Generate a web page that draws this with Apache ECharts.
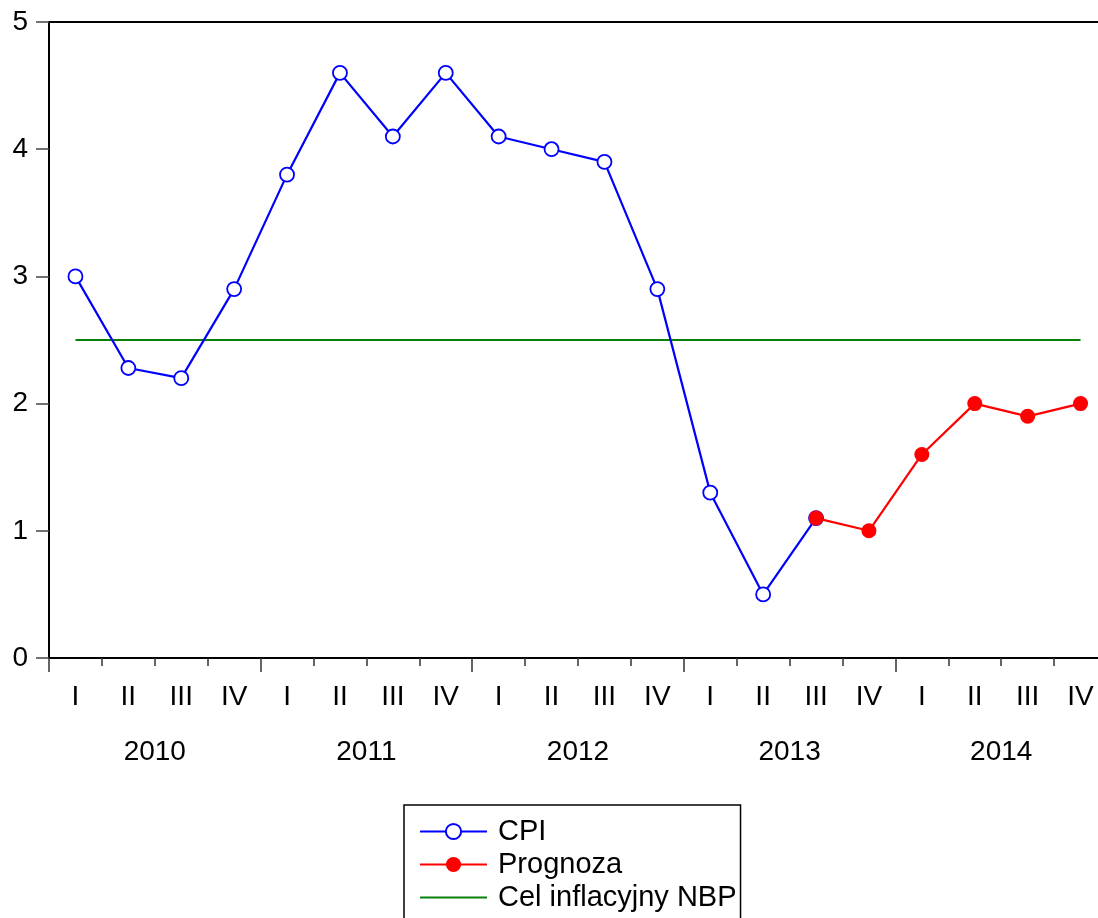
<!DOCTYPE html>
<html><head><meta charset="utf-8">
<script src="https://cdn.jsdelivr.net/npm/echarts@6/dist/echarts.min.js"></script>
<style>html,body{margin:0;padding:0;background:#fff}#c{width:1098px;height:918px}</style>
</head><body><div id="c"></div>
<script>
const quarters = ['I','II','III','IV','I','II','III','IV','I','II','III','IV','I','II','III','IV','I','II','III','IV'];
const years = ['2010','2011','2012','2013','2014'];
const cpi = [3.0, 2.28, 2.2, 2.9, 3.8, 4.6, 4.1, 4.6, 4.1, 4.0, 3.9, 2.9, 1.3, 0.5, 1.1, null, null, null, null, null];
const prognoza = [null, null, null, null, null, null, null, null, null, null, null, null, null, null, 1.1, 1.0, 1.6, 2.0, 1.9, 2.0];
const target = [2.5, 2.5, 2.5, 2.5, 2.5, 2.5, 2.5, 2.5, 2.5, 2.5, 2.5, 2.5, 2.5, 2.5, 2.5, 2.5, 2.5, 2.5, 2.5, 2.5];
const yTicks = [0, 1, 2, 3, 4, 5];

const FONT = '"Liberation Sans", Arial, sans-serif';
const chart = echarts.init(document.getElementById('c'), null, {renderer: 'canvas'});
chart.setOption({
  animation: false,
  backgroundColor: '#fff',
  textStyle: {fontFamily: FONT, color: '#000'},
  grid: {left: 49, top: 22, width: 1058, height: 636, outerBoundsMode: 'none', containLabel: false,
         show: true, borderColor: '#000', borderWidth: 2, backgroundColor: 'transparent'},
  xAxis: [{
    type: 'category', data: quarters, boundaryGap: true, position: 'bottom',
    axisLine: {show: true, lineStyle: {color: '#000', width: 2}},
    axisTick: {show: true, inside: false, length: 8, lineStyle: {color: '#333', width: 1.5}, interval: 0},
    axisLabel: {show: true, interval: 0, margin: 25, fontSize: 28, color: '#000', fontFamily: FONT},
    splitLine: {show: false}
  }, {
    type: 'category', data: years, boundaryGap: true, position: 'bottom',
    axisLine: {show: false},
    axisTick: {show: true, length: 14, lineStyle: {color: '#333', width: 1.5}, interval: 0},
    axisLabel: {show: true, interval: 0, margin: 80, fontSize: 28, color: '#000', fontFamily: FONT},
    splitLine: {show: false}
  }],
  yAxis: {
    type: 'value', min: yTicks[0], max: yTicks[yTicks.length - 1], interval: 1,
    axisLine: {show: true, lineStyle: {color: '#000', width: 2}},
    axisTick: {show: true, length: 13, lineStyle: {color: '#444', width: 1.5}},
    axisLabel: {margin: 21, fontSize: 28, color: '#000', fontFamily: FONT},
    splitLine: {show: false}
  },
  legend: {
    orient: 'vertical', left: 404, top: 805, height: 110,
    borderColor: '#000', borderWidth: 1.5, backgroundColor: '#fff',
    padding: [10, 4, 12, 15],
    itemWidth: 67, itemHeight: 19, itemGap: 0,
    textStyle: {fontSize: 29, color: '#000', fontFamily: FONT, lineHeight: 33, padding: [0, 0, 0, 6]},
    data: ['CPI', 'Prognoza', {name: 'Cel inflacyjny NBP', itemStyle: {opacity: 0}}]
  },
  series: [{
    name: 'Cel inflacyjny NBP', type: 'line', data: target, xAxisIndex: 0,
    symbol: 'none', lineStyle: {color: '#0a800a', width: 2.2}, itemStyle: {color: '#0a800a'}, z: 2
  }, {
    name: 'CPI', type: 'line', data: cpi, xAxisIndex: 0,
    symbol: 'circle', symbolSize: 14, showAllSymbol: true,
    lineStyle: {color: '#0000ff', width: 2.2},
    itemStyle: {color: '#ffffff', borderColor: '#0000ff', borderWidth: 1.8}, z: 3
  }, {
    name: 'Prognoza', type: 'line', data: prognoza, xAxisIndex: 0,
    symbol: 'circle', symbolSize: 15, showAllSymbol: true,
    lineStyle: {color: '#ff0000', width: 2.2},
    itemStyle: {color: '#ff0000', borderColor: '#ff0000', borderWidth: 0}, z: 4
  }]
});
</script></body></html>
